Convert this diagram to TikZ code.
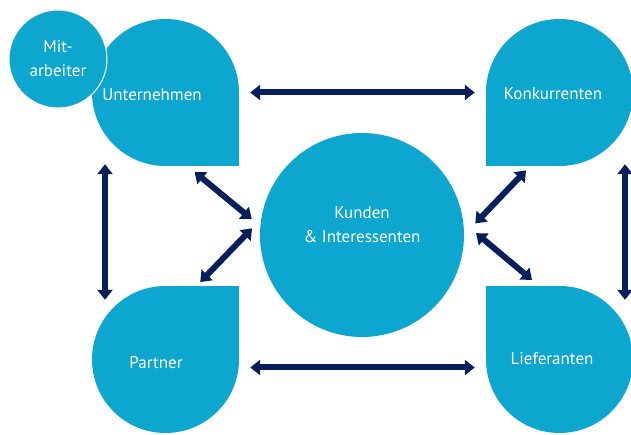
\documentclass[tikz,border=0pt]{standalone}
\usepackage{fontspec}
\setmainfont{PT Sans}
\usetikzlibrary{positioning,arrows.meta,backgrounds}

\definecolor{dropblue}{RGB}{12,166,207}
\definecolor{arrownavy}{RGB}{6,30,92}

\tikzset{
  drop/.style={circle,fill=dropblue,minimum size=147pt,inner sep=0pt},
  lbl/.style={text=white,font=\fontsize{17}{24}\selectfont,align=center},
  twoway/.style={draw=arrownavy,line width=6pt,
    {Triangle[width=15pt,length=10pt]}-{Triangle[width=15pt,length=10pt]},
    shorten <=#1,shorten >=#1},
  twoway/.default=11pt
}

\begin{document}
\begin{tikzpicture}[x=1pt,y=1pt,on grid]
   \useasboundingbox (0,0) rectangle (631,435);
   \node[circle,fill=dropblue,minimum size=204pt,inner sep=0pt,
         label={[lbl,yshift=10pt]center:{Kunden\\\& Interessenten}}] (kun) at (362,200) {};
   \node[drop,above left=142.5pt and 196.5pt of kun,
         label={[lbl,xshift=-13.5pt,yshift=-2.5pt]center:Unternehmen}] (unt) {};
   \node[drop,above right=142.5pt and 197.5pt of kun,
         label={[lbl,xshift=-6.5pt,yshift=-1.5pt]center:Konkurrenten}] (kon) {};
   \node[drop,below left=124.5pt and 196.5pt of kun,
         label={[lbl,xshift=-9.5pt,yshift=-3.5pt]center:Partner}] (par) {};
   \node[drop,below right=124.5pt and 197.5pt of kun,
         label={[lbl,xshift=-7.5pt,yshift=1pt]center:Lieferanten}] (lie) {};
   \node[drop,lbl,minimum size=98pt,draw=white,line width=1pt,
         above left=33.5pt and 107.5pt of unt] (mit) {Mit-\\arbeiter};

   % square corners of the drops
   \begin{scope}[on background layer]
     \fill[dropblue] (unt.center) rectangle (unt.south -| unt.east);
     \fill[dropblue] (kon.center) rectangle (kon.south -| kon.west);
     \fill[dropblue] (par.center) rectangle (par.north -| par.east);
     \fill[dropblue] (lie.center) rectangle (lie.north -| lie.west);
   \end{scope}

   \draw[twoway] (unt) -- (kon);
   \draw[twoway] ([yshift=-8pt]par.east) -- ([yshift=-8pt]lie.west);
   \draw[twoway=0pt] ([xshift=-60.5pt,yshift=2pt]unt.south) -- ([xshift=-60.5pt,yshift=-14pt]par.north);
   \draw[twoway=0pt] ([xshift=65.5pt,yshift=2pt]kon.south) -- ([xshift=65.5pt,yshift=-14pt]lie.north);
   \draw[twoway,shorten <=13pt,shorten >=11pt] (unt.-75.5) -- (kun.175.4);
   \draw[twoway,shorten <=13pt,shorten >=12pt] (kun.171.3) -- (par.69.3);
   \draw[twoway,shorten <=12pt,shorten >=16pt] (kon.-110.9) -- (kun.0.2);
   \draw[twoway,shorten <=16.5pt,shorten >=12.5pt] (kun.7.2) -- (lie.104);
\end{tikzpicture}
\end{document}
